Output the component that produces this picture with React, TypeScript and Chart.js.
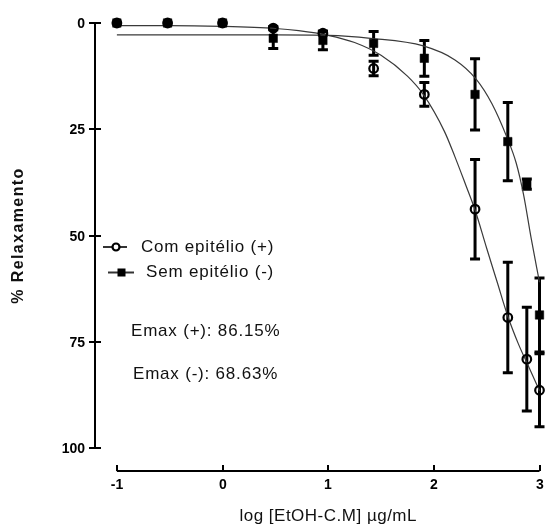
import React, { useEffect, useRef } from "react";
import { Chart, registerables } from "chart.js";

Chart.register(...registerables);

// ---- data ----
const doseLog = [-1, -0.52, 0, 0.48, 0.95, 1.43, 1.91, 2.39, 2.7, 2.88, 3];
const comMean = [0, 0, 0, 1.2, 2.4, 10.7, 16.8, 43.8, 69.3, 79.1, 86.4];
const comErr = [0, 0, 0, 0.4, 0.4, 1.7, 2.8, 11.7, 13.0, 12.2, 8.6];
const semMean = [0, 0, 0, 3.6, 4.1, 4.8, 8.3, 16.8, 27.9, 37.9, 68.7];
const semErr = [0, 0, 0, 2.4, 2.2, 2.8, 4.2, 8.4, 9.2, 1.2, 8.7];

const comFitX = [-1, -0.5, 0, 0.5, 0.72, 1.0, 1.25, 1.5, 1.75, 1.9, 2.1, 2.2, 2.3, 2.39, 2.5, 2.6, 2.7, 2.8, 2.9, 3.0];
const comFitY = [0.6, 0.6, 0.8, 1.3, 1.8, 2.9, 4.6, 7.6, 12.5, 16.8, 25.5, 31.5, 38, 44, 53, 61, 69, 75.5, 81, 86.5];
const semFitX = [-1, 0, 0.5, 1.0, 1.4, 1.9, 2.2, 2.4, 2.55, 2.69, 2.78, 2.85, 2.92, 3.0];
const semFitY = [2.8, 2.8, 2.8, 2.9, 3.6, 5.4, 8.7, 13.2, 19, 26.8, 33, 40.5, 50.5, 61];

const xTicks = [-1, 0, 1, 2, 3];
const yTicks = [0, 25, 50, 75, 100];
const seriesLabels = ["Com epitélio (+)", "Sem epitélio (-)"];
const emaxLabels = ["Emax (+): 86.15%", "Emax (-): 68.63%"];
const xTitle = "log [EtOH-C.M] µg/mL";
const yTitle = "% Relaxamento";

const FONT = '"Liberation Sans", Arial, sans-serif';

const customPlugin = {
  id: "customAxesAndLabels",
  beforeDatasetsDraw(chart: any) {
    const ctx = chart.ctx;
    const xs = chart.scales.x;
    const ys = chart.scales.y;
    ctx.save();
    ctx.strokeStyle = "#000";
    ctx.lineWidth = 3;
    const drawBars = (means: number[], errs: number[]) => {
      for (let i = 0; i < doseLog.length; i++) {
        if (!errs[i]) continue;
        const px = xs.getPixelForValue(doseLog[i]);
        const y1 = ys.getPixelForValue(means[i] - errs[i]);
        const y2 = ys.getPixelForValue(means[i] + errs[i]);
        ctx.beginPath();
        ctx.moveTo(px, y1);
        ctx.lineTo(px, y2);
        ctx.moveTo(px - 5, y1);
        ctx.lineTo(px + 5, y1);
        ctx.moveTo(px - 5, y2);
        ctx.lineTo(px + 5, y2);
        ctx.stroke();
      }
    };
    drawBars(semMean, semErr);
    drawBars(comMean, comErr);
    ctx.restore();
  },
  afterDraw(chart: any) {
    const ctx = chart.ctx;
    const xs = chart.scales.x;
    const ys = chart.scales.y;
    const area = chart.chartArea;
    ctx.save();
    ctx.strokeStyle = "#000";
    ctx.fillStyle = "#000";
    ctx.lineWidth = 2;

    // Y axis
    const ax = area.left;
    ctx.beginPath();
    ctx.moveTo(ax, ys.getPixelForValue(yTicks[0]));
    ctx.lineTo(ax, ys.getPixelForValue(yTicks[yTicks.length - 1]));
    ctx.stroke();
    ctx.font = `bold 14px ${FONT}`;
    ctx.textAlign = "right";
    ctx.textBaseline = "middle";
    for (const t of yTicks) {
      const py = Math.round(ys.getPixelForValue(t));
      ctx.beginPath();
      ctx.moveTo(ax - 6, py);
      ctx.lineTo(ax + 6, py);
      ctx.stroke();
      ctx.fillText(String(t), ax - 10, py + 1);
    }

    // X axis
    const ay = area.bottom;
    ctx.beginPath();
    ctx.moveTo(xs.getPixelForValue(xTicks[0]), ay);
    ctx.lineTo(xs.getPixelForValue(xTicks[xTicks.length - 1]), ay);
    ctx.stroke();
    ctx.textAlign = "center";
    for (const t of xTicks) {
      const px = Math.round(xs.getPixelForValue(t));
      ctx.beginPath();
      ctx.moveTo(px, ay - 6);
      ctx.lineTo(px, ay);
      ctx.stroke();
      ctx.fillText(String(t), px, ay + 14);
    }

    // Axis titles
    const xMid = (xs.getPixelForValue(xTicks[0]) + xs.getPixelForValue(xTicks[xTicks.length - 1])) / 2;
    ctx.font = `17px ${FONT}`;
    (ctx as any).letterSpacing = "0.5px";
    ctx.fillStyle = "#111";
    ctx.fillText(xTitle, xMid, ay + 45);

    const yMid = (ys.getPixelForValue(yTicks[0]) + ys.getPixelForValue(yTicks[yTicks.length - 1])) / 2;
    ctx.save();
    ctx.translate(19, yMid);
    ctx.rotate(-Math.PI / 2);
    ctx.font = `bold 16px ${FONT}`;
    (ctx as any).letterSpacing = "1.4px";
    ctx.fillText(yTitle, 0, 0);
    ctx.restore();

    // Legend
    ctx.font = `17px ${FONT}`;
    (ctx as any).letterSpacing = "0.8px";
    ctx.textAlign = "left";
    ctx.textBaseline = "middle";
    // row 1: circle
    ctx.strokeStyle = "#333";
    ctx.lineWidth = 2;
    ctx.beginPath();
    ctx.moveTo(103, 247);
    ctx.lineTo(127, 247);
    ctx.stroke();
    ctx.strokeStyle = "#000";
    ctx.fillStyle = "#fff";
    ctx.beginPath();
    ctx.arc(116, 247, 3.5, 0, Math.PI * 2);
    ctx.fill();
    ctx.lineWidth = 2.2;
    ctx.stroke();
    ctx.fillStyle = "#111";
    ctx.fillText(seriesLabels[0], 141, 247);
    // row 2: square
    ctx.strokeStyle = "#333";
    ctx.lineWidth = 2;
    ctx.beginPath();
    ctx.moveTo(108, 272.5);
    ctx.lineTo(134, 272.5);
    ctx.stroke();
    ctx.fillStyle = "#000";
    ctx.fillRect(117.5, 268.5, 8, 8);
    ctx.fillStyle = "#111";
    ctx.fillText(seriesLabels[1], 146, 272.5);

    // Emax texts
    ctx.fillText(emaxLabels[0], 131, 331);
    ctx.fillText(emaxLabels[1], 133, 374);
    (ctx as any).letterSpacing = "0px";
    ctx.restore();
  },
};

export default function App() {
  const canvasRef = useRef<HTMLCanvasElement | null>(null);

  useEffect(() => {
    if (!canvasRef.current) return;
    const toXY = (xArr: number[], yArr: number[]) => xArr.map((x, i) => ({ x, y: yArr[i] }));
    const chart = new Chart(canvasRef.current, {
      type: "line",
      data: {
        datasets: [
          {
            label: seriesLabels[0],
            data: toXY(doseLog, comMean),
            showLine: false,
            pointStyle: "circle",
            pointRadius: 4.3,
            pointBorderWidth: 2.2,
            pointBorderColor: "#000",
            pointBackgroundColor: "rgba(0,0,0,0)",
            order: 0,
            clip: false,
          },
          {
            label: seriesLabels[1],
            data: toXY(doseLog, semMean),
            showLine: false,
            pointStyle: "rect",
            pointRadius: 6,
            pointBorderWidth: 0.5,
            pointBorderColor: "#000",
            pointBackgroundColor: "#000",
            order: 1,
            clip: false,
          },
          {
            label: "fit +",
            data: toXY(comFitX, comFitY),
            borderColor: "#3a3a3a",
            borderWidth: 1.2,
            pointRadius: 0,
            cubicInterpolationMode: "monotone",
            fill: false,
            order: 2,
            clip: false,
          },
          {
            label: "fit -",
            data: toXY(semFitX, semFitY),
            borderColor: "#3a3a3a",
            borderWidth: 1.2,
            pointRadius: 0,
            cubicInterpolationMode: "monotone",
            fill: false,
            order: 3,
            clip: false,
          },
        ] as any,
      },
      options: {
        animation: false,
        responsive: false,
        devicePixelRatio: 1,
        layout: { padding: { left: 95, right: 4, top: 23, bottom: 54 } },
        scales: {
          x: { type: "linear", min: -1.2071, max: 3, display: false },
          y: { type: "linear", min: 0, max: 105.41, reverse: true, display: false },
        },
        plugins: {
          legend: { display: false },
          tooltip: { enabled: false },
        },
      },
      plugins: [customPlugin],
    });
    return () => chart.destroy();
  }, []);

  return (
    <div style={{ position: "fixed", left: 0, top: 0, width: 546, height: 525, background: "#fff" }}>
      <canvas ref={canvasRef} width={546} height={525} />
    </div>
  );
}
